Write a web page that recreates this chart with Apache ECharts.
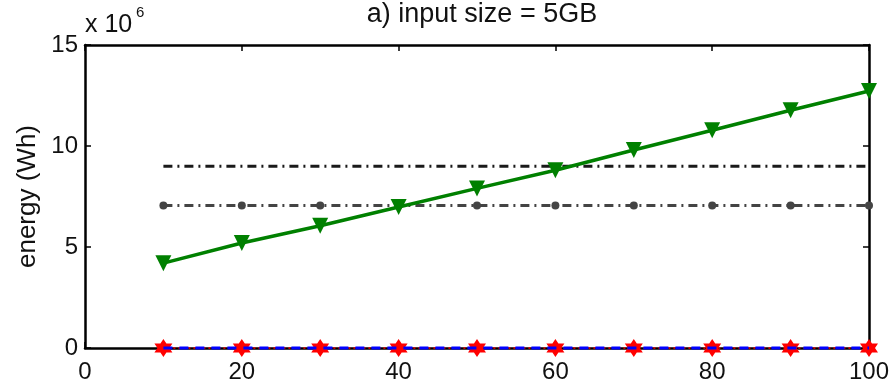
<!DOCTYPE html>
<html>
<head>
<meta charset="utf-8">
<script src="https://cdn.jsdelivr.net/npm/echarts@6/dist/echarts.min.js"></script>
<style>
  html, body { margin: 0; padding: 0; background: #fff; }
  #chart { width: 893px; height: 385px; }
</style>
</head>
<body>
<div id="chart"></div>
<script>
// Number of nodes / input parameter on the x axis
const xValues = [10, 20, 30, 40, 50, 60, 70, 80, 90, 100];

// Energy in units of 10^6 Wh
const energyGreen = [4.2, 5.2, 6.05, 6.98, 7.9, 8.8, 9.8, 10.78, 11.77, 12.72];
const energyBlackTop = [9.0, 9.0, 9.0, 9.0, 9.0, 9.0, 9.0, 9.0, 9.0, 9.0];
const energyBlackDots = [7.05, 7.05, 7.05, 7.05, 7.05, 7.05, 7.05, 7.05, 7.05, 7.05];
const energyRed = [0, 0, 0, 0, 0, 0, 0, 0, 0, 0];
const energyBlue = [0, 0, 0, 0, 0, 0, 0, 0, 0, 0];

const titleText = 'a) input size = 5GB';
const yAxisTitle = 'energy (Wh)';

const FONT = '"Liberation Sans", Arial, Helvetica, sans-serif';

const pairs = ys => xValues.map((x, i) => [x, ys[i]]);

const hexagram = 'path://M0,-10 L2.887,-5 L8.66,-5 L5.774,0 L8.66,5 L2.887,5 L0,10 L-2.887,5 L-8.66,5 L-5.774,0 L-8.66,-5 L-2.887,-5 Z';

const chart = echarts.init(document.getElementById('chart'), null, { renderer: 'canvas' });

const boxAxisCommon = {
  axisLine: { show: true, onZero: false, lineStyle: { color: '#000', width: 2.5 } },
  axisTick: { show: true, inside: true, length: 6, lineStyle: { color: '#000', width: 1.5 } },
  splitLine: { show: false }
};

chart.setOption({
  animation: false,
  backgroundColor: '#fff',
  textStyle: { fontFamily: FONT },
  title: {
    text: titleText,
    left: 477,
    textAlign: 'center',
    top: -4,
    textStyle: { fontFamily: FONT, fontSize: 27, fontWeight: 'normal', color: '#111' }
  },
  graphic: [
    {
      type: 'text',
      left: 85,
      top: 13,
      style: {
        text: 'x 10',
        font: '25px ' + FONT,
        fill: '#111'
      }
    },
    {
      type: 'text',
      left: 136,
      top: 5,
      style: {
        text: '6',
        font: '15px ' + FONT,
        fill: '#111'
      }
    }
  ],
  grid: { left: 85, right: 24, top: 45, bottom: 37, containLabel: false },
  xAxis: [
    Object.assign({
      type: 'value',
      position: 'bottom',
      min: 0, max: 100, interval: 20,
      axisLabel: { color: '#111', fontSize: 24, fontFamily: FONT, margin: 12 }
    }, boxAxisCommon),
    Object.assign({
      type: 'value',
      position: 'top',
      min: 0, max: 100, interval: 20,
      axisLabel: { show: false }
    }, boxAxisCommon)
  ],
  yAxis: [
    Object.assign({
      type: 'value',
      position: 'left',
      min: 0, max: 15, interval: 5,
      name: yAxisTitle,
      nameLocation: 'middle',
      nameRotate: 90,
      nameGap: 41,
      nameTextStyle: { color: '#111', fontSize: 26, fontFamily: FONT },
      axisLabel: { color: '#111', fontSize: 24, fontFamily: FONT, margin: 7 }
    }, boxAxisCommon),
    Object.assign({
      type: 'value',
      position: 'right',
      min: 0, max: 15, interval: 5,
      axisLabel: { show: false }
    }, boxAxisCommon)
  ],
  series: [
    {
      type: 'line',
      data: pairs(energyBlackTop),
      showSymbol: false,
      symbol: 'none',
      lineStyle: { color: '#1a1a1a', width: 3, type: [9, 5, 2, 5] },
      z: 3
    },
    {
      type: 'line',
      data: pairs(energyBlackDots),
      symbol: 'circle',
      symbolSize: 8,
      itemStyle: { color: '#444' },
      lineStyle: { color: '#444', width: 3, type: [9, 5, 2, 5] },
      z: 3
    },
    {
      type: 'line',
      data: pairs(energyGreen),
      symbol: 'triangle',
      symbolRotate: 180,
      symbolSize: 16,
      itemStyle: { color: '#008000' },
      lineStyle: { color: '#008000', width: 3.5 },
      z: 4
    },
    {
      type: 'line',
      data: pairs(energyRed),
      clip: false,
      symbol: hexagram,
      symbolSize: 18,
      itemStyle: { color: '#ff0000' },
      lineStyle: { color: '#ff0000', width: 1.5, type: [2, 3] },
      z: 5
    },
    {
      type: 'line',
      data: pairs(energyBlue),
      clip: false,
      symbol: 'none',
      lineStyle: { color: '#0000ff', width: 3, type: [9, 7] },
      z: 6
    }
  ]
});
</script>
</body>
</html>
